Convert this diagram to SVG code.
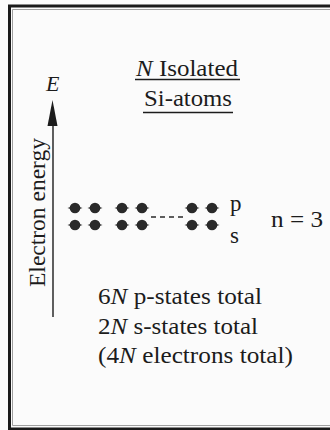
<svg xmlns="http://www.w3.org/2000/svg" width="330" height="430" viewBox="0 0 330 430">
  <style>
    .t { font-family: "Liberation Serif", "Times New Roman", serif; fill: #1c1c1c; }
    .i { font-style: italic; }
    .ul { stroke: #1c1c1c; stroke-width: 1.6; fill: none; }
    .dot { fill: #2a2a2a; }
  </style>
  <defs>
    <g id="e">
      <circle r="5.3" class="dot"/>
      <path d="M-7.5,0 L0,-2.4 L7.5,0 L0,2.4 Z" class="dot"/>
    </g>
  </defs>
  <rect x="0" y="0" width="330" height="430" fill="#fbfbfb"/>

  <g id="frame">
    <path d="M331,6 H9.5 V429 H331" fill="none" stroke="#1a1a1a" stroke-width="3"/>
    <path d="M331,9.5 H12.5 V425.5 H331" fill="none" stroke="#888" stroke-width="0.8"/>
  </g>

  <g id="title">
    <text class="t" x="136" y="76" font-size="23" textLength="102" lengthAdjust="spacingAndGlyphs"><tspan class="i">N</tspan> Isolated</text>
    <line class="ul" x1="135" y1="79.5" x2="240" y2="79.5"/>
    <text class="t" x="144" y="106" font-size="23" textLength="88" lengthAdjust="spacingAndGlyphs">Si-atoms</text>
    <line class="ul" x1="143" y1="112.5" x2="233" y2="112.5"/>
  </g>

  <g id="axis">
    <line x1="53" y1="317" x2="53" y2="118" stroke="#1c1c1c" stroke-width="1.4"/>
    <polygon points="52.5,100 47.5,126 57.5,126" fill="#1c1c1c"/>
    <text class="t i" x="46" y="91" font-size="22">E</text>
    <text class="t" transform="translate(44.5,287) rotate(-90)" x="0" y="0" font-size="24" textLength="149" lengthAdjust="spacingAndGlyphs">Electron energy</text>
  </g>

  <g id="levels">
    <use href="#e" x="75" y="208"/>
    <use href="#e" x="95" y="208"/>
    <use href="#e" x="122" y="208"/>
    <use href="#e" x="142" y="208"/>
    <use href="#e" x="192" y="208"/>
    <use href="#e" x="212" y="208"/>
    <use href="#e" x="75" y="225"/>
    <use href="#e" x="95" y="225"/>
    <use href="#e" x="122" y="225"/>
    <use href="#e" x="142" y="225"/>
    <use href="#e" x="192" y="225"/>
    <use href="#e" x="212" y="225"/>
    <line x1="151" y1="217" x2="185" y2="217" stroke="#2a2a2a" stroke-width="1.5" stroke-dasharray="5 4"/>
    <text class="t" x="230" y="211" font-size="23">p</text>
    <text class="t" x="230" y="243" font-size="23">s</text>
    <text class="t" x="271" y="227" font-size="23" textLength="52" lengthAdjust="spacingAndGlyphs">n = 3</text>
  </g>

  <g id="totals">
    <text class="t" x="98" y="304" font-size="23" textLength="164" lengthAdjust="spacingAndGlyphs">6<tspan class="i">N</tspan> p-states total</text>
    <text class="t" x="98" y="334" font-size="23" textLength="160" lengthAdjust="spacingAndGlyphs">2<tspan class="i">N</tspan> s-states total</text>
    <text class="t" x="98" y="363" font-size="23" textLength="195" lengthAdjust="spacingAndGlyphs">(4<tspan class="i">N</tspan> electrons total)</text>
  </g>
</svg>
